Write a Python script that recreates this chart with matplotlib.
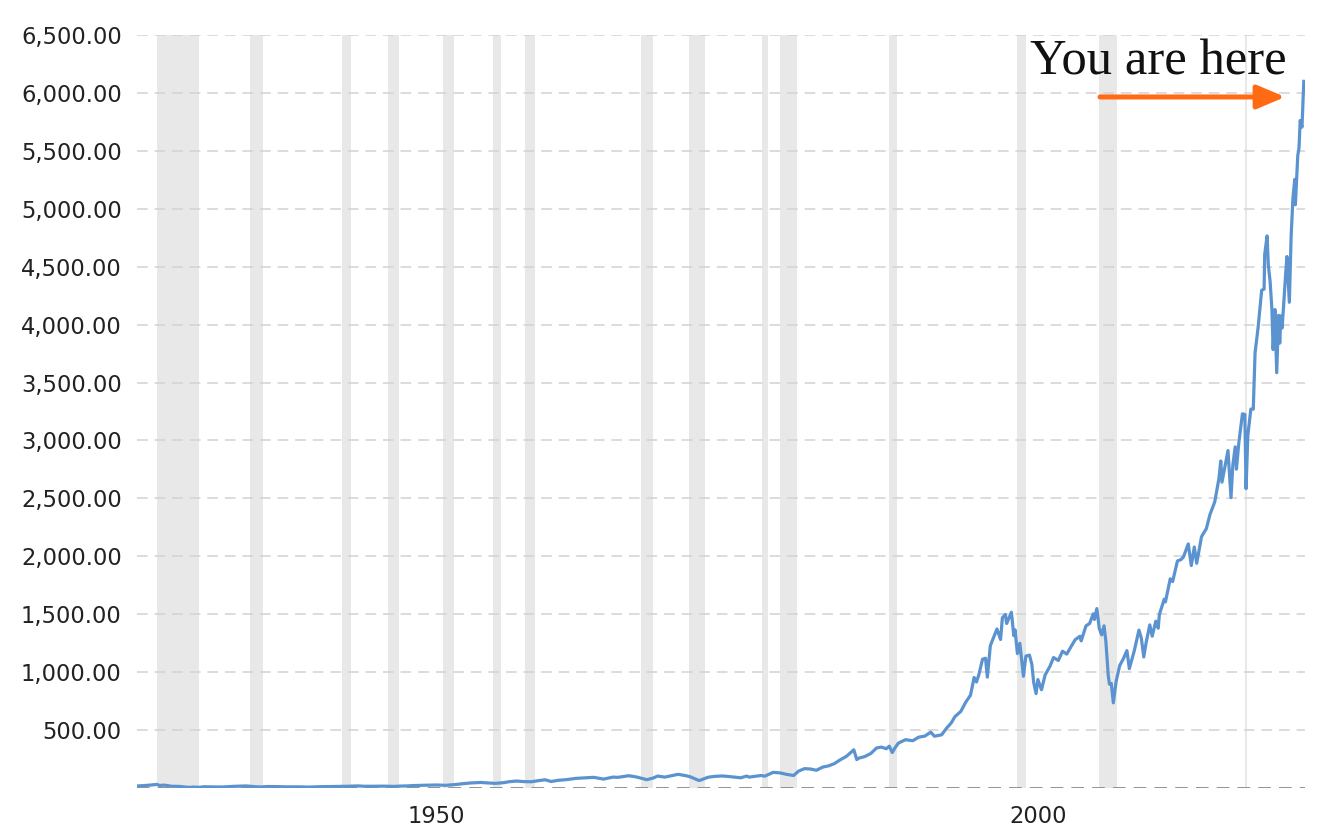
import matplotlib
matplotlib.use("Agg")
import matplotlib.pyplot as plt
import matplotlib.transforms as mtransforms
from matplotlib.ticker import FuncFormatter

# S&P 500
annees = [1928.0, 1928.5, 1929.0, 1929.7, 1929.9, 1930.3, 1930.9, 1931.5, 1932.4, 1932.7,
          1933.2, 1933.6, 1934.5, 1935.2, 1936.0, 1937.1, 1937.9, 1938.3, 1938.9, 1939.7,
          1940.4, 1941.5, 1942.3, 1943.5, 1944.5, 1945.5, 1946.4, 1946.9, 1947.5, 1948.5,
          1949.4, 1950.0, 1950.5, 1951.0, 1952.0, 1953.0, 1953.7, 1954.5, 1955.0, 1955.7,
          1956.6, 1957.0, 1957.8, 1958.5, 1959.0, 1959.6, 1960.2, 1960.8, 1961.5, 1961.95,
          1962.45, 1963.0, 1963.7, 1964.5, 1965.3, 1966.0, 1966.8, 1967.6, 1968.0, 1968.9,
          1969.5, 1970.4, 1970.9, 1971.3, 1971.9, 1972.5, 1973.0, 1973.7, 1974.0, 1974.75,
          1975.0, 1975.5, 1976.0, 1976.7, 1977.5, 1978.2, 1978.7, 1978.9, 1979.5, 1979.9,
          1980.2, 1980.9, 1981.5, 1982.0, 1982.6, 1983.0, 1983.5, 1984.0, 1984.5, 1985.0,
          1985.5, 1986.0, 1986.5, 1987.0, 1987.6, 1987.85, 1988.0, 1988.5, 1989.0, 1989.5,
          1989.9, 1990.3, 1990.55, 1990.8, 1991.0, 1991.3, 1991.9, 1992.5, 1993.0, 1993.5,
          1994.0, 1994.3, 1994.9, 1995.3, 1995.7, 1996.0, 1996.5, 1996.9, 1997.3, 1997.6,
          1997.8, 1998.0, 1998.3, 1998.55, 1998.7, 1998.95, 1999.2, 1999.5, 1999.8, 1999.95,
          2000.2, 2000.3, 2000.45, 2000.7, 2000.9, 2001.0, 2001.2, 2001.4, 2001.7, 2001.9,
          2002.2, 2002.4, 2002.55, 2002.75, 2002.9, 2003.2, 2003.5, 2003.9, 2004.2, 2004.6,
          2004.95, 2005.3, 2005.7, 2006.0, 2006.4, 2006.5, 2006.9, 2007.2, 2007.5, 2007.6,
          2007.8, 2008.0, 2008.2, 2008.4, 2008.55, 2008.75, 2008.85, 2009.0, 2009.17, 2009.4,
          2009.7, 2010.0, 2010.3, 2010.5, 2010.9, 2011.3, 2011.5, 2011.7, 2011.9, 2012.2,
          2012.4, 2012.7, 2012.9, 2013.0, 2013.4, 2013.5, 2013.9, 2014.1, 2014.5, 2014.8,
          2015.0, 2015.4, 2015.65, 2015.9, 2016.1, 2016.5, 2016.9, 2017.2, 2017.6, 2017.95,
          2018.1, 2018.2, 2018.7, 2018.95, 2019.1, 2019.3, 2019.4, 2019.6, 2019.9, 2020.1,
          2020.2, 2020.35, 2020.6, 2020.8, 2020.95, 2021.2, 2021.5, 2021.7, 2021.75, 2021.95,
          2022.05, 2022.2, 2022.35, 2022.45, 2022.6, 2022.75, 2022.9, 2023.0, 2023.1, 2023.2,
          2023.5, 2023.6, 2023.8, 2023.95, 2024.1, 2024.25, 2024.3, 2024.5, 2024.6, 2024.7,
          2024.85, 2025.0]

valeurs = [17.5, 20, 24, 31, 22, 25, 15, 14, 5, 8,
           6, 11, 9, 9, 14, 18, 11, 9, 13, 12,
           10, 10, 8, 12, 13, 15, 18, 15, 15, 16,
           14, 17, 18, 21, 24, 26, 23, 30, 36, 43,
           48, 45, 40, 46, 55, 60, 55, 54, 65, 71,
           56, 66, 72, 83, 88, 92, 77, 94, 92, 106,
           96, 72, 85, 103, 94, 107, 118, 105, 97, 64,
           74, 93, 100, 104, 96, 88, 103, 94, 102, 108,
           102, 135, 130, 118, 108, 145, 167, 164, 153, 180,
           191, 211, 245, 274, 330, 245, 257, 271, 297, 346,
           353, 339, 361, 306, 343, 387, 417, 408, 439, 448,
           482, 447, 459, 515, 562, 615, 662, 740, 801, 954,
           915, 980, 1112, 1120, 957, 1229, 1294, 1373, 1282, 1469,
           1498, 1420, 1455, 1517, 1315, 1366, 1160, 1249, 965, 1139,
           1147, 1067, 912, 815, 936, 848, 975, 1050, 1126, 1101,
           1181, 1156, 1228, 1280, 1310, 1270, 1400, 1420, 1503, 1455,
           1549, 1378, 1322, 1400, 1267, 968, 896, 903, 735, 919,
           1057, 1115, 1186, 1030, 1180, 1363, 1292, 1131, 1257, 1408,
           1310, 1440, 1379, 1498, 1630, 1606, 1806, 1782, 1960, 1972,
           1995, 2107, 1920, 2080, 1940, 2170, 2238, 2360, 2470, 2673,
           2823, 2640, 2913, 2506, 2784, 2945, 2752, 2980, 3230, 3225,
           2584, 3044, 3271, 3270, 3756, 3973, 4297, 4307, 4605, 4766,
           4515, 4373, 4131, 3785, 4130, 3585, 4080, 3840, 4076, 3970,
           4450, 4588, 4193, 4770, 5096, 5254, 5035, 5460, 5522, 5762,
           5705, 6100]

# recessions (NBER)
rec_debut = [1929.67, 1937.4, 1945.1, 1948.9, 1953.5, 1957.6, 1960.3, 1969.95,
             1973.9, 1980.0, 1981.5, 1990.55, 2001.2, 2007.95, 2020.1]
rec_fin = [1933.2, 1938.5, 1945.8, 1949.8, 1954.4, 1958.3, 1961.1, 1970.9,
           1975.2, 1980.5, 1982.9, 1991.2, 2001.9, 2009.5, 2020.25]

ticks_y = [500, 1000, 1500, 2000, 2500, 3000, 3500, 4000, 4500, 5000, 5500, 6000, 6500]
ticks_x = [1950, 2000]

fig = plt.figure(figsize=(13.22, 8.38), dpi=100)
ax = fig.add_axes([137 / 1322, 1 - 788 / 838, (1305 - 137) / 1322, (788 - 35) / 838])

for d, f in zip(rec_debut, rec_fin):
    ax.axvspan(d, f, color="#e8e8e8", lw=0, zorder=0)

for v in ticks_y:
    ax.axhline(v, color="#d2d2d2", lw=1.1, dashes=(7, 4.5), zorder=1)
ax.axhline(0, color="#8a8a8a", lw=1.3, dashes=(7, 4.5), zorder=1)

ax.plot(annees, valeurs, color="#5a93cf", lw=2.3, zorder=3, solid_joinstyle="round")

ax.set_xlim(1928.03, 2025.1)
ax.set_ylim(0, 6500)
ax.set_yticks(ticks_y)
ax.yaxis.set_major_formatter(FuncFormatter(lambda v, p: "{:,.2f}".format(v)))
ax.set_xticks(ticks_x)
ax.set_xticklabels([str(t) for t in ticks_x])
ax.tick_params(axis="both", length=0, labelsize=16.3, labelcolor="#222222")
ax.tick_params(axis="y", pad=11)
ax.tick_params(axis="x", pad=12)
decal = mtransforms.ScaledTranslation(6 / 100, 0, fig.dpi_scale_trans)
for lab in ax.get_xticklabels():
    lab.set_horizontalalignment("left")
    lab.set_transform(lab.get_transform() + decal)

for s in ax.spines.values():
    s.set_visible(False)

ax.text(0.9846, 0.9469, "You are here", transform=ax.transAxes, ha="right", va="baseline",
        fontsize=36.5, family="Liberation Serif", color="#111111")
ax.annotate("", xy=(0.983, 0.9177), xytext=(0.8245, 0.9177), xycoords="axes fraction",
            arrowprops=dict(arrowstyle="-|>,head_length=0.85,head_width=0.36",
                            mutation_scale=20, lw=3.6, color="#ff6a13",
                            shrinkA=0, shrinkB=0))

fig.savefig("out.png", dpi=100)
